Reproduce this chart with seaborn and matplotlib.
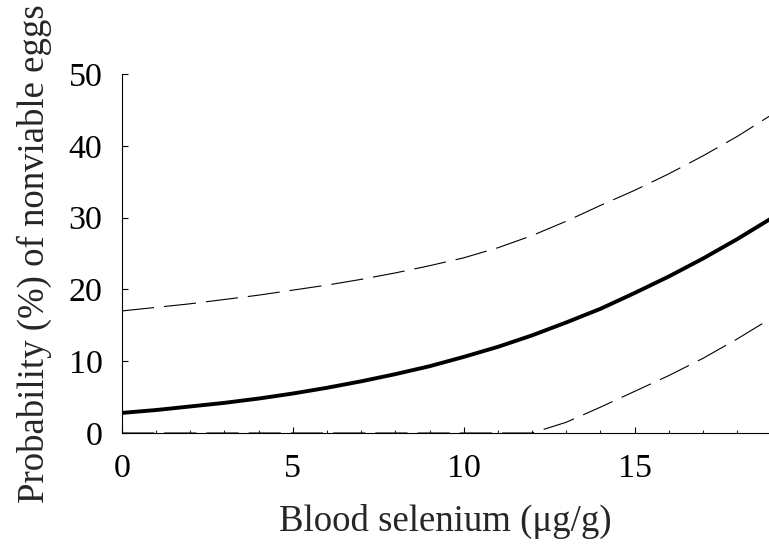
import matplotlib
matplotlib.use("Agg")
import matplotlib.pyplot as plt
import seaborn as sns
import pandas as pd
from matplotlib.ticker import MultipleLocator

# Data
selenium = [0, 1, 2, 3, 4, 5, 6, 7, 8, 9, 10, 11, 12, 13, 14, 15, 16, 17, 18, 19]
prob_fit = [2.8, 3.2, 3.7, 4.2, 4.8, 5.5, 6.3, 7.2, 8.2, 9.3, 10.6, 12.0, 13.6,
            15.4, 17.3, 19.5, 21.8, 24.3, 27.0, 29.9]
prob_upper = [17.0, 17.5, 18.0, 18.6, 19.2, 19.9, 20.6, 21.4, 22.3, 23.3, 24.4,
              25.8, 27.5, 29.5, 31.7, 33.8, 36.1, 38.6, 41.3, 44.3]
prob_lower = [0, 0, 0, 0, 0, 0, 0, 0, 0, 0, 0, 0, 0, 1.5, 3.6, 5.8, 8.0, 10.4,
              13.1, 16.0]

df = pd.DataFrame({"x": selenium, "fit": prob_fit, "upper": prob_upper,
                   "lower": prob_lower})

sns.set_style("ticks")
plt.rcParams["font.family"] = ["Liberation Serif", "DejaVu Serif"]

fig = plt.figure(figsize=(7.69, 5.54), dpi=100)
ax = fig.add_axes([0.1586, 0.2184, 0.8409, 0.648])

dash = (0, (29, 9))
sns.lineplot(data=df, x="x", y="upper", ax=ax, color="black", linewidth=0.8,
             linestyle=dash)
sns.lineplot(data=df, x="x", y="lower", ax=ax, color="black", linewidth=0.8,
             linestyle=dash)
sns.lineplot(data=df, x="x", y="fit", ax=ax, color="black", linewidth=2.8)

ax.set_xlim(0, 18.92)
ax.set_ylim(0, 50)
ax.xaxis.set_major_locator(MultipleLocator(5))
ax.xaxis.set_minor_locator(MultipleLocator(1))
ax.yaxis.set_major_locator(MultipleLocator(10))

for side in ["top", "right"]:
    ax.spines[side].set_visible(False)
for side in ["left", "bottom"]:
    ax.spines[side].set_linewidth(0.8)
    ax.spines[side].set_color("black")

ax.tick_params(axis="both", which="major", direction="in", length=4,
               width=0.8, labelsize=24.5, colors="black")
ax.tick_params(axis="x", which="major", pad=15)
ax.tick_params(axis="y", which="major", pad=14)
ax.tick_params(axis="x", which="minor", direction="in", length=2.5, width=0.8)

ax.set_xlabel("Blood selenium (μg/g)", fontsize=26.5, labelpad=14)
ax.set_ylabel("Probability (%) of nonviable eggs", fontsize=26.5, labelpad=12)

fig.savefig("out.png", dpi=100, facecolor="white")
